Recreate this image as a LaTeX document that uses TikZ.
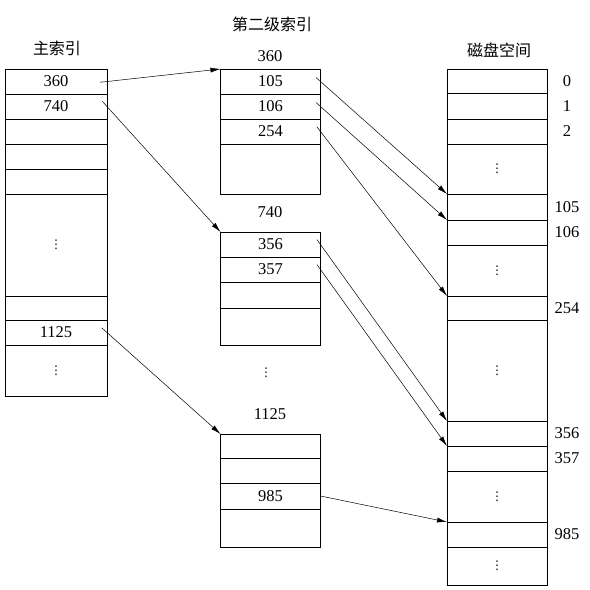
\documentclass[tikz,border=0pt]{standalone}
\usepackage{fontspec}
\setmainfont{Liberation Serif}
\newfontfamily\cjk{Noto Sans CJK SC}
\newfontfamily\symf{DejaVu Sans}
\usepackage{tikz}
\usetikzlibrary{arrows.meta,positioning,calc}
\newcommand{\vd}{{\symf\fontsize{12}{14}\selectfont ⋮}}
\tikzset{
  ix/cell/.style={draw, line width=0.8pt, minimum width=100pt, minimum height=25pt, inner sep=0pt, outer sep=0pt, font=\fontsize{16.5}{18}\selectfont},
  ix/wide/.style={ix/cell, minimum width=102pt},
  ix/title/.style={font=\cjk\fontsize{16}{18}\selectfont, inner sep=0pt},
  ix/num/.style={font=\fontsize{16.5}{18}\selectfont, inner sep=0pt},
  ix/ptr/.style={-{Latex[length=10pt,width=5pt]}, line width=0.5pt, shorten <=-6pt}
}
\begin{document}
\begin{tikzpicture}[x=1pt,y=-1pt]
\useasboundingbox (0,0) rectangle (590,590);
% main index
\node[ix/title] (tmain) at (57,48) {主索引};
\node[ix/wide, anchor=north] (m1) at (56,69) {360};
\node[ix/wide, below=0pt of m1] (m2) {740};
\node[ix/wide, below=0pt of m2] (m3) {};
\node[ix/wide, below=0pt of m3] (m4) {};
\node[ix/wide, below=0pt of m4] (m5) {};
\node[ix/wide, below=0pt of m5, minimum height=102pt] (m6) {\vd};
\node[ix/wide, below=0pt of m6, minimum height=24pt] (m7) {};
\node[ix/wide, below=0pt of m7] (m8) {1125};
\node[ix/wide, below=0pt of m8, minimum height=51pt] (m9) {\vd};
% second level
\node[ix/title] (tsec) at (272,24) {第二级索引};
\node[ix/num] (ta) at (270,56) {360};
\node[ix/cell, anchor=north] (a1) at (270.5,69) {105};
\node[ix/cell, below=0pt of a1] (a2) {106};
\node[ix/cell, below=0pt of a2] (a3) {254};
\node[ix/cell, below=0pt of a3, minimum height=50pt] (a4) {};
\node[ix/num] (tb) at (270,212) {740};
\node[ix/cell, anchor=north] (b1) at (270.5,232) {356};
\node[ix/cell, below=0pt of b1] (b2) {357};
\node[ix/cell, below=0pt of b2, minimum height=26pt] (b3) {};
\node[ix/cell, below=0pt of b3, minimum height=37pt] (b4) {};
\node[ix/num] (dots) at (266,373) {\vd};
\node[ix/num] (tc) at (270,414) {1125};
\node[ix/cell, anchor=north, minimum height=24pt] (c1) at (270.5,434) {};
\node[ix/cell, below=0pt of c1] (c2) {};
\node[ix/cell, below=0pt of c2, minimum height=26pt] (c3) {985};
\node[ix/cell, below=0pt of c3, minimum height=38pt] (c4) {};
% disk
\node[ix/title] (tdisk) at (499,50) {磁盘空间};
\node[ix/cell, anchor=north, minimum height=24pt] (d0) at (497,69) {};
\node[ix/cell, below=0pt of d0, minimum height=26pt] (d1) {};
\node[ix/cell, below=0pt of d1] (d2) {};
\node[ix/cell, below=0pt of d2, minimum height=50pt] (dA) {\vd};
\node[ix/cell, below=0pt of dA, minimum height=26pt] (d105) {};
\node[ix/cell, below=0pt of d105] (d106) {};
\node[ix/cell, below=0pt of d106, minimum height=51pt] (dB) {\vd};
\node[ix/cell, below=0pt of dB, minimum height=24pt] (d254) {};
\node[ix/cell, below=0pt of d254, minimum height=101pt] (dC) {\vd};
\node[ix/cell, below=0pt of dC] (d356) {};
\node[ix/cell, below=0pt of d356] (d357) {};
\node[ix/cell, below=0pt of d357, minimum height=51pt] (dD) {\vd};
\node[ix/cell, below=0pt of dD] (d985) {};
\node[ix/cell, below=0pt of d985, minimum height=38pt] (dE) {\vd};
\foreach \n in {0,1,2,105,106,254,356,357,985}
  \node[ix/num] (l\n) at ($(d\n.east)+(20,0)$) {\n};
% pointers
\draw[ix/ptr, shorten <=-7pt] (m1.east) -- (a1.north west);
\draw[ix/ptr, shorten <=-7pt] (m2.east) -- (b1.north west);
\draw[ix/ptr, shorten <=-7pt] (m8.east) -- (c1.north west);
\draw[ix/ptr] (a1.east) -- (d105.north west);
\draw[ix/ptr] (a2.east) -- (d106.north west);
\draw[ix/ptr] (a3.east) -- (d254.north west);
\draw[ix/ptr] (b1.east) -- (d356.north west);
\draw[ix/ptr] (b2.east) -- (d357.north west);
\draw[ix/ptr, shorten <=0pt] (c3.east) -- (d985.north west);
\end{tikzpicture}
\end{document}
